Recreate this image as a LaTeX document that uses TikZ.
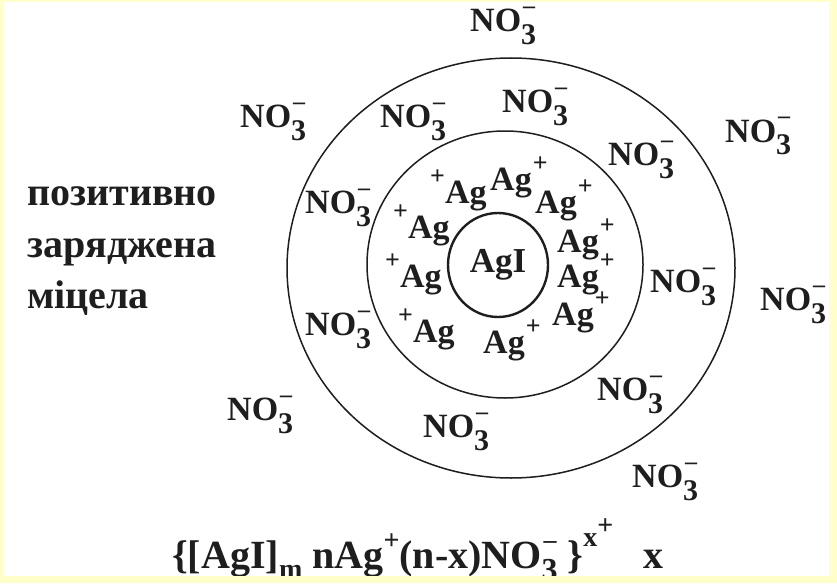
\documentclass[tikz,border=0pt]{standalone}
\usepackage{fontspec}
\setmainfont{Liberation Serif}
\usetikzlibrary{shapes.geometric}
\definecolor{bgyellow}{HTML}{FFFFCC}
\definecolor{ink}{HTML}{1E1E1E}
\newcommand\ionNO{NO\makebox[0pt][l]{\hspace{2pt}\raisebox{18pt}{\fontsize{24}{24}\selectfont –}}\raisebox{-13pt}{\fontsize{30}{30}\selectfont 3}}
\newcommand\plusup{\raisebox{19pt}{\fontsize{26}{26}\selectfont +}}
\tikzset{
  ion/.style={anchor=base west, inner sep=0pt, text=ink, font=\bfseries\fontsize{34}{34}\selectfont},
  label/.style={anchor=base west, inner sep=0pt, text=ink, font=\bfseries\fontsize{40}{40}\selectfont},
  ring/.style={ellipse, draw=ink, line width=1.5pt, inner sep=0pt},
  corering/.style={ellipse, draw=ink, line width=2.4pt, inner sep=0pt, text=ink, font=\bfseries\fontsize{35}{35}\selectfont}
}
\begin{document}
\begin{tikzpicture}[x=1pt,y=-1pt]
\useasboundingbox (0,0) rectangle (837,583);
\fill[white] (0,0) rectangle (837,583);
% rings
\node[ring, minimum width=448pt, minimum height=420pt] (outer) at (511,268) {};
\node[ring, minimum width=276pt, minimum height=267pt] (middle) at (505,264.5) {};
\node[corering, minimum width=100pt, minimum height=104pt] (core) at (498,265) {AgI};
% nitrate ions
\node[ion] (n1) at (470,32) {\ionNO};
\node[ion] (n2) at (240,128) {\ionNO};
\node[ion] (n3) at (380,128) {\ionNO};
\node[ion] (n4) at (502,113) {\ionNO};
\node[ion] (n5) at (608,165) {\ionNO};
\node[ion] (n6) at (725,142) {\ionNO};
\node[ion] (n7) at (650,292) {\ionNO};
\node[ion] (n8) at (760,310) {\ionNO};
\node[ion] (n9) at (305,213) {\ionNO};
\node[ion] (n10) at (305,335) {\ionNO};
\node[ion] (n11) at (227,420) {\ionNO};
\node[ion] (n12) at (423,437) {\ionNO};
\node[ion] (n13) at (597,400) {\ionNO};
\node[ion] (n14) at (632,487) {\ionNO};
% silver ions
\node[ion] (a1) at (430,203) {\plusup Ag};
\node[ion] (a2) at (490,190) {Ag\hspace{1pt}\plusup};
\node[ion] (a3) at (535,213) {Ag\hspace{1pt}\plusup};
\node[ion] (a4) at (393,238) {\plusup Ag};
\node[ion] (a5) at (557,252) {Ag\hspace{1pt}\plusup};
\node[ion] (a6) at (385,287) {\plusup Ag};
\node[ion] (a7) at (557,287) {Ag\hspace{1pt}\plusup};
\node[ion] (a8) at (552,325) {Ag\hspace{1pt}\plusup};
\node[ion] (a9) at (398,342) {\plusup Ag};
\node[ion] (a10) at (483,353) {Ag\hspace{1pt}\plusup};
% caption on the left
\node[label] (t1) at (27,205) {позитивно};
\node[label] (t2) at (27,257) {заряджена};
\node[label] (t3) at (27,308) {міцела};
% formula
\node[label] (formula) at (172,568) {\{[AgI]\raisebox{-10pt}{\fontsize{28}{28}\selectfont m} nAg\raisebox{19pt}{\fontsize{28}{28}\selectfont +}(n-x)NO\makebox[0pt][l]{\hspace{2pt}\raisebox{20pt}{\fontsize{26}{26}\selectfont –}}\raisebox{-12pt}{\fontsize{32}{32}\selectfont 3}\ \}\raisebox{22pt}{\fontsize{28}{28}\selectfont x}\raisebox{34pt}{\fontsize{28}{28}\selectfont +}\ \ \ x};
% frame
\fill[bgyellow, even odd rule] (0,0) rectangle (837,583) (4,2) rectangle (829,576);
\end{tikzpicture}
\end{document}
